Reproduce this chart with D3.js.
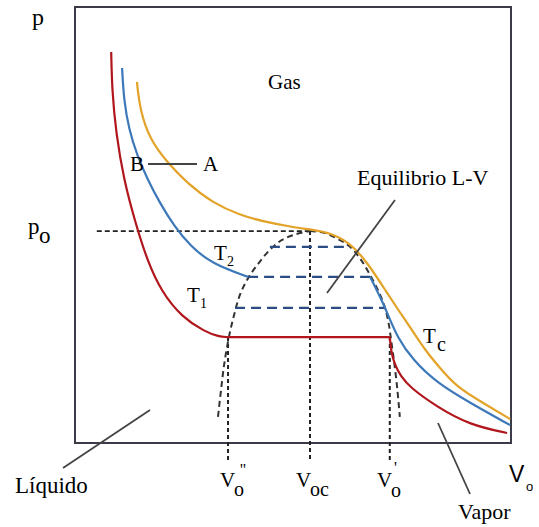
<!DOCTYPE html>
<html><head><meta charset="utf-8">
<script src="https://cdn.jsdelivr.net/npm/d3@7"></script>
<style>html,body{margin:0;padding:0;background:#fff;}svg{display:block;}</style>
</head><body>
<script>
// ---- data (V, p) in arbitrary units ----
const tcCurve = [[1.42,8.28],[1.49,7.64],[1.72,6.95],[2.13,6.42],[2.57,5.96],[3.17,5.50],[3.78,5.23],[4.36,5.07],[5.00,4.95],[5.46,4.89],[5.85,4.82],[6.31,4.59],[6.70,4.15],[7.16,3.44],[7.45,3.00],[7.73,2.59],[8.03,2.13],[8.37,1.72],[8.76,1.28],[9.36,0.92],[9.98,0.55]];
const t2Liquid = [[1.08,8.60],[1.12,7.87],[1.24,7.18],[1.42,6.61],[1.67,6.03],[1.95,5.50],[2.27,4.98],[2.64,4.52],[3.14,4.11],[3.97,3.81]];
const t2Vapor = [[6.77,3.81],[7.00,3.35],[7.18,2.94],[7.39,2.43],[7.75,1.90],[8.30,1.38],[9.06,0.92],[9.98,0.41]];
const t1Liquid = [[0.83,8.97],[0.85,8.10],[0.94,7.11],[1.12,6.03],[1.40,5.00],[1.67,4.15],[1.99,3.46],[2.45,2.89],[2.98,2.55],[3.30,2.44],[3.49,2.43]];
const t1Vapor = [[7.22,2.43],[7.25,2.10],[7.33,1.80],[7.48,1.52],[7.68,1.28],[8.30,0.83],[9.06,0.41],[9.91,0.23]];
const domeLeft = [[3.28,0.60],[3.35,1.22],[3.42,1.79],[3.53,2.43],[3.65,2.94],[3.78,3.39],[3.97,3.78],[4.20,4.11],[4.47,4.43],[4.75,4.66],[5.07,4.79],[5.39,4.86]];
const domeRight = [[5.39,4.86],[5.71,4.82],[6.03,4.68],[6.31,4.50],[6.56,4.20],[6.77,3.85],[6.97,3.46],[7.11,3.10],[7.20,2.71],[7.25,2.36],[7.32,1.86],[7.39,1.26],[7.45,0.60]];
const t1Plateau = [[3.49,2.43],[7.22,2.43]];
const tieLines = [[4.47,6.31,4.50],[3.97,6.77,3.81],[3.67,7.11,3.10]]; // [Vliq, Vvap, p]
const p0Line = [[0.50,4.86],[5.39,4.86]];
const volumeMarks = [[3.51,2.43],[5.39,4.86],[7.22,2.43]]; // [V, p top of drop line]
const markBottom = -0.39;

// ---- layout ----
const W = 539, H = 527;
const frame = {left:75, top:7, right:511, bottom:443};
const x = d3.scaleLinear().domain([0,10]).range([frame.left, frame.right]);
const y = d3.scaleLinear().domain([0,10]).range([frame.bottom, frame.top]);

const svg = d3.select("body").append("svg").attr("width",W).attr("height",H);
const line = d3.line().x(d=>x(d[0])).y(d=>y(d[1])).curve(d3.curveBasis);
const dline = d3.line().x(d=>x(d[0])).y(d=>y(d[1])).curve(d3.curveCatmullRom.alpha(0.5));
const straight = d3.line().x(d=>x(d[0])).y(d=>y(d[1]));

const COL = {tc:"#e3a228", t2:"#3d78b9", t1:"#b0161c", tie:"#2c4d83", ink:"#222", frame:"#3b3b48"};

// frame
svg.append("rect").attr("x",frame.left).attr("y",frame.top)
  .attr("width",frame.right-frame.left).attr("height",frame.bottom-frame.top)
  .attr("fill","none").attr("stroke",COL.frame).attr("stroke-width",2);

// vertical dotted lines
svg.selectAll(".vm").data(volumeMarks).join("line")
  .attr("x1",d=>x(d[0])).attr("x2",d=>x(d[0]))
  .attr("y1",d=>y(d[1])).attr("y2",y(markBottom))
  .attr("stroke",COL.ink).attr("stroke-width",2).attr("stroke-dasharray","4,3");

// p0 dashed line
svg.append("path").attr("d",straight(p0Line)).attr("fill","none")
  .attr("stroke",COL.ink).attr("stroke-width",1.8).attr("stroke-dasharray","5,3");

// dome
[domeLeft, domeRight].forEach(dd=>{
  svg.append("path").attr("d",dline(dd)).attr("fill","none")
    .attr("stroke","#333").attr("stroke-width",2).attr("stroke-dasharray","6,4");
});

// tie lines
svg.selectAll(".tie").data(tieLines).join("line")
  .attr("x1",d=>x(d[0])).attr("x2",d=>x(d[1]))
  .attr("y1",d=>y(d[2])).attr("y2",d=>y(d[2]))
  .attr("stroke",COL.tie).attr("stroke-width",2.2).attr("stroke-dasharray","10,6");

// isotherms
svg.append("path").attr("d",line(tcCurve)).attr("fill","none").attr("stroke",COL.tc).attr("stroke-width",2.2);
svg.append("path").attr("d",line(t2Liquid)).attr("fill","none").attr("stroke",COL.t2).attr("stroke-width",2.2);
svg.append("path").attr("d",line(t2Vapor)).attr("fill","none").attr("stroke",COL.t2).attr("stroke-width",2.2);
svg.append("path").attr("d",line(t1Liquid)).attr("fill","none").attr("stroke",COL.t1).attr("stroke-width",2.2);
svg.append("path").attr("d",straight(t1Plateau)).attr("fill","none").attr("stroke",COL.t1).attr("stroke-width",2.2);
svg.append("path").attr("d",line(t1Vapor)).attr("fill","none").attr("stroke",COL.t1).attr("stroke-width",2.2);

// pointer lines
const ptrs = [[148,164,197,164],[395,200,327,293],[63,468,150,410],[438,423,470,494]];
svg.selectAll(".ptr").data(ptrs).join("line")
  .attr("x1",d=>d[0]).attr("y1",d=>d[1]).attr("x2",d=>d[2]).attr("y2",d=>d[3])
  .attr("stroke","#444").attr("stroke-width",1.8);

// labels
const labels = [
  [32,25,"p",24,0],[28,234,"p",23,0],[39,243,"o",23,0],
  [268,89,"Gas",21,0],[357,185,"Equilibrio L-V",22,0],
  [130,171,"B",21,0],[203,171,"A",21,0],
  [214,260,"T",21,0],[227,266,"2",14,0],
  [187,302,"T",21,0],[200,308,"1",14,0],
  [423,343,"T",21,0],[437,351,"c",20,0],
  [15,493,"Líquido",23,0],[458,519,"Vapor",22,0],
  [220,487,"V",21,0],[234,496,"o",20,0],[240,475,"''",16,0],
  [296,487,"V",21,0],[310,496,"oc",20,0],
  [377,487,"V",21,0],[391,497,"o",20,0],[394,473,"'",16,0],
  [509,482,"V",23,1],[526,491,"o",13,1]
];
labels.forEach(d=>{
  svg.append("text").attr("x",d[0]).attr("y",d[1]).attr("font-size",d[3])
    .style("font-family", d[4] ? `"Liberation Sans"` : `"Liberation Serif"`)
    .text(d[2]);
});
</script>
</body></html>
